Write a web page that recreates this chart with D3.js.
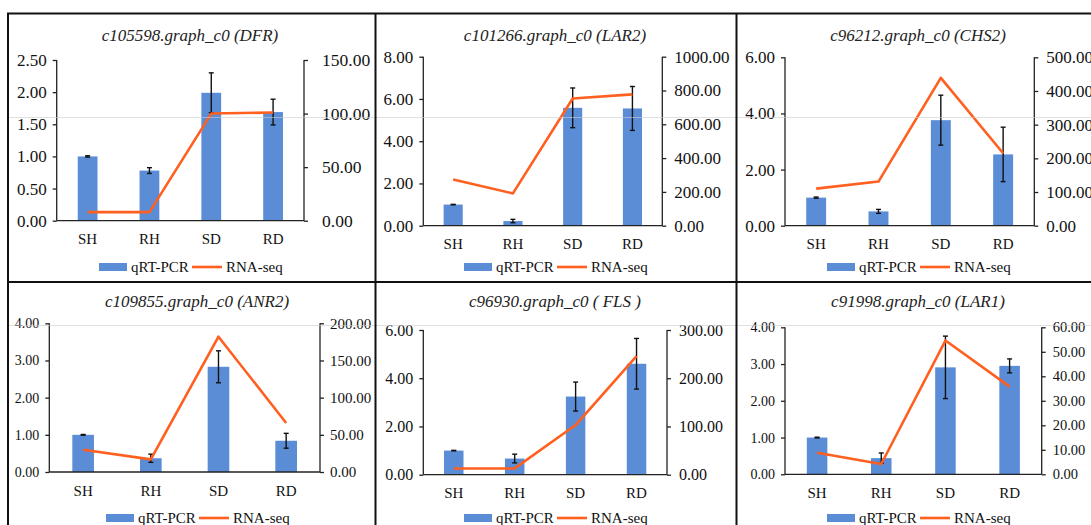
<!DOCTYPE html>
<html>
<head>
<meta charset="utf-8">
<script src="https://cdn.jsdelivr.net/npm/d3@7/dist/d3.min.js"></script>
<style>
  body { margin: 0; background: #fff; }
  svg text { font-family: "Liberation Serif", "Times New Roman", serif; }
</style>
</head>
<body>
<script>
// sample groups on the x axis
var groups = ["SH", "RH", "SD", "RD"];

var titles = [
  "c105598.graph_c0 (DFR)",
  "c101266.graph_c0 (LAR2)",
  "c96212.graph_c0 (CHS2)",
  "c109855.graph_c0 (ANR2)",
  "c96930.graph_c0 ( FLS )",
  "c91998.graph_c0 (LAR1)"
];

// qRT-PCR relative expression (bars, left axis)
var qpcr = [
  [1.00, 0.78, 1.99, 1.69],
  [1.00, 0.22, 5.58, 5.55],
  [1.00, 0.51, 3.76, 2.54],
  [1.00, 0.37, 2.83, 0.84],
  [1.00, 0.67, 3.24, 4.60],
  [1.00, 0.44, 2.91, 2.95]
];

// error bars on qRT-PCR
var qpcrErr = [
  [0.01, 0.045, 0.31, 0.20],
  [0.01, 0.08, 0.94, 1.04],
  [0.02, 0.07, 0.89, 0.97],
  [0.01, 0.11, 0.43, 0.20],
  [0.01, 0.18, 0.60, 1.05],
  [0.01, 0.14, 0.85, 0.19]
];

// RNA-seq (line, right axis)
var rnaseq = [
  [8, 8, 100, 101],
  [274, 191, 753, 777],
  [110, 131, 439, 215],
  [30, 17, 182, 66],
  [13, 13, 103, 246],
  [8.8, 4.2, 54.6, 35.8]
];

var leftMax = [2.5, 8, 6, 4, 6, 4];
var leftStep = [0.5, 2, 2, 1, 2, 1];
var rightMax = [150, 1000, 500, 200, 300, 60];
var rightStep = [50, 200, 100, 50, 100, 10];

// where each small chart sits on the page
var layout = [
  {l: 56.7, r: 304, t: 60, b: 220.7, cx: 190, ty: 41, ly: 267, fs: 17, rfs: 17.5, rgap: 18},
  {l: 423.3, r: 662.3, t: 56.7, b: 225.7, cx: 555, ty: 41, ly: 267, fs: 17, rfs: 17, rgap: 12},
  {l: 785, r: 1034.3, t: 57.3, b: 225.7, cx: 918, ty: 41, ly: 267, fs: 17, rfs: 17, rgap: 12},
  {l: 49.3, r: 320, t: 323.3, b: 472, cx: 197, ty: 307, ly: 518, fs: 14, rfs: 15, rgap: 10},
  {l: 423.3, r: 667, t: 330, b: 474.7, cx: 555, ty: 307, ly: 518, fs: 16, rfs: 16, rgap: 12},
  {l: 785, r: 1041.7, t: 327.3, b: 474.3, cx: 918, ty: 307, ly: 518, fs: 14, rfs: 14.5, rgap: 11}
];

var W = 1091, H = 525;
var blue = "#5b8dd6", orange = "#ff5f1f";
var serif = "Liberation Serif, Times New Roman, serif";
var fmt = d3.format(".2f");

var svg = d3.select("body").append("svg")
    .attr("width", W)
    .attr("height", H)
    .attr("font-family", serif);

titles.forEach(function(title, i){
  var p = layout[i];
  var g = svg.append("g");

  var x = d3.scaleBand()
      .domain(groups)
      .range([p.l, p.r])
      .paddingInner(0.68)
      .paddingOuter(0.34);
  var yL = d3.scaleLinear().domain([0, leftMax[i]]).range([p.b, p.t]);
  var yR = d3.scaleLinear().domain([0, rightMax[i]]).range([p.b, p.t]);

  var bars = groups.map(function(d, j){ return {g: d, v: qpcr[i][j], e: qpcrErr[i][j], r: rnaseq[i][j]}; });

  g.selectAll("rect.bar")
      .data(bars)
    .enter().append("rect")
      .attr("class", "bar")
      .attr("x", function(d){ return x(d.g); })
      .attr("width", x.bandwidth())
      .attr("y", function(d){ return yL(d.v); })
      .attr("height", function(d){ return yL(0) - yL(d.v); })
      .attr("fill", blue);

  // axes
  var axL = d3.axisLeft(yL)
      .tickValues(d3.range(0, leftMax[i] + leftStep[i] / 2, leftStep[i]))
      .tickFormat(fmt).tickSize(4).tickPadding(6);
  var axR = d3.axisRight(yR)
      .tickValues(d3.range(0, rightMax[i] + rightStep[i] / 2, rightStep[i]))
      .tickFormat(fmt).tickSize(4).tickPadding(p.rgap - 4);

  var gl = g.append("g").attr("transform", "translate(" + p.l + ",0)").call(axL);
  gl.selectAll("text").style("font-size", p.fs + "px");
  var gr = g.append("g").attr("transform", "translate(" + p.r + ",0)").call(axR);
  gr.selectAll("text").style("font-size", p.rfs + "px");
  [gl, gr].forEach(function(a){
    a.attr("font-family", serif);
    a.select(".domain").attr("stroke", "#222").attr("stroke-width", 1.3)
      .attr("d", "M0," + p.t + "V" + p.b);
    a.selectAll("text").attr("fill", "#111");
    a.selectAll(".tick line").attr("stroke", "#222").attr("stroke-width", 1.3);
  });

  var axB = d3.axisBottom(x).tickSize(0).tickPadding(13);
  var gb = g.append("g").attr("transform", "translate(0," + p.b + ")").call(axB);
  gb.attr("font-family", serif);
  gb.select(".domain").attr("stroke", "#222").attr("stroke-width", 1.3)
    .attr("d", "M" + p.l + ",0H" + p.r);
  gb.selectAll("text").style("font-size", "15px").attr("fill", "#111");

  // error bars
  var cap = 2.5;
  var cxOf = function(d){ return x(d.g) + x.bandwidth() / 2; };
  var eb = g.selectAll("g.err")
      .data(bars)
    .enter().append("g")
      .attr("class", "err")
      .attr("stroke", "#111")
      .attr("stroke-width", 1.4);
  eb.append("line")
      .attr("x1", cxOf).attr("x2", cxOf)
      .attr("y1", function(d){ return yL(d.v + d.e); })
      .attr("y2", function(d){ return yL(d.v - d.e); });
  eb.append("line")
      .attr("x1", function(d){ return cxOf(d) - cap; })
      .attr("x2", function(d){ return cxOf(d) + cap; })
      .attr("y1", function(d){ return yL(d.v + d.e); })
      .attr("y2", function(d){ return yL(d.v + d.e); });
  eb.append("line")
      .attr("x1", function(d){ return cxOf(d) - cap; })
      .attr("x2", function(d){ return cxOf(d) + cap; })
      .attr("y1", function(d){ return yL(d.v - d.e); })
      .attr("y2", function(d){ return yL(d.v - d.e); });

  // RNA-seq line
  var line = d3.line()
      .x(cxOf)
      .y(function(d){ return yR(d.r); });
  g.append("path")
      .datum(bars)
      .attr("d", line)
      .attr("fill", "none")
      .attr("stroke", orange)
      .attr("stroke-width", 2.6)
      .attr("stroke-linejoin", "round");

  // title
  g.append("text")
      .attr("x", p.cx)
      .attr("y", p.ty)
      .attr("text-anchor", "middle")
      .style("font-style", "italic")
      .style("font-size", "17px")
      .attr("fill", "#222")
      .text(title);

  // legend
  var lg = g.append("g").attr("transform", "translate(" + (p.cx - 91) + "," + p.ly + ")");
  lg.append("rect").attr("x", 0).attr("y", -4).attr("width", 28).attr("height", 8).attr("fill", blue);
  lg.append("text").attr("x", 32).attr("y", 5).style("font-size", "15px").attr("fill", "#111").text("qRT-PCR");
  lg.append("line").attr("x1", 93).attr("x2", 123).attr("y1", 0).attr("y2", 0)
    .attr("stroke", orange).attr("stroke-width", 2.6);
  lg.append("text").attr("x", 127).attr("y", 5).style("font-size", "15px").attr("fill", "#111").text("RNA-seq");
});

// faint scan lines
[117.5, 325.5].forEach(function(yy){
  svg.append("line").attr("x1", 8).attr("x2", W).attr("y1", yy).attr("y2", yy)
    .attr("stroke", "#ccc").attr("stroke-opacity", 0.6).attr("stroke-width", 1);
});

// panel frame
var frame = svg.append("g").attr("stroke", "#111").attr("stroke-width", 2).attr("fill", "none");
frame.append("path").attr("d", "M8," + H + "V13.5H" + W);
frame.append("line").attr("x1", 8).attr("x2", W).attr("y1", 282).attr("y2", 282);
[375.5, 736.5].forEach(function(xx){
  frame.append("line").attr("x1", xx).attr("x2", xx).attr("y1", 13.5).attr("y2", H);
});
</script>
</body>
</html>
